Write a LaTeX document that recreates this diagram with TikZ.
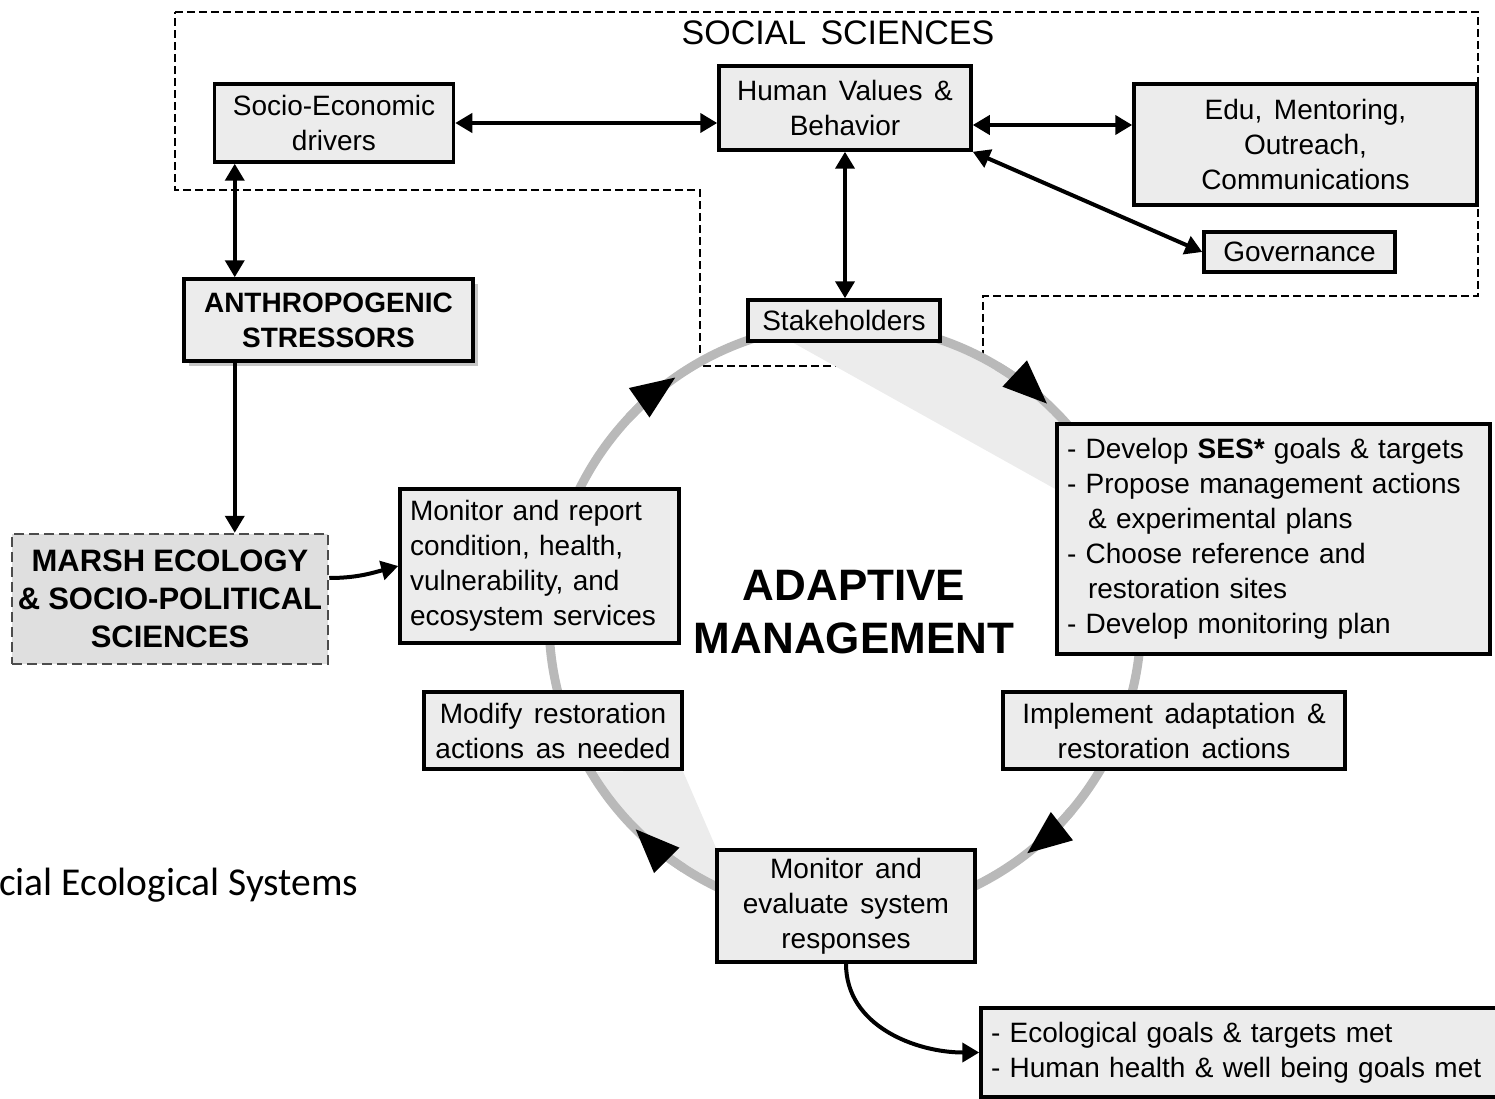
\documentclass[tikz,border=0pt]{standalone}
\usepackage{fontspec}
\setmainfont{Liberation Sans}[WordSpace=1.5]
\newfontfamily\calibrifont{Carlito}
\usetikzlibrary{arrows.meta, positioning, shadows}
\newcommand\narrowspaces{\spaceskip=0.26em\relax}

\begin{document}
\begin{tikzpicture}[
    x=1pt, y=1pt,
    box/.style={
        draw,
        line width=3.5pt,
        fill=gray!15,
        inner sep=6pt,
        align=center,
        font=\fontsize{28}{35}\selectfont,
    },
    boldbox/.style={
        box,
        font=\fontsize{28}{35}\selectfont\bfseries,
    },
    listbox/.style={
        box,
        align=left,
        inner sep=10pt,
    },
    sciencebox/.style={
        draw=gray!60!black,
        line width=2.5pt,
        dash pattern=on 10pt off 5pt,
        fill=gray!25,
        inner sep=2pt,
        align=center,
        font=\fontsize{31}{38}\selectfont\bfseries\narrowspaces,
    },
    link/.style={
        line width=4pt,
        {Triangle[length=17pt,width=19pt]}-{Triangle[length=17pt,width=19pt]},
    },
    oneway/.style={
        line width=4pt,
        -{Triangle[length=17pt,width=19pt]},
    },
    region/.style={
        line width=1.8pt,
        dash pattern=on 8pt off 4pt,
    },
    band/.style={
        fill=gray!15,
    },
    ring/.style={
        gray!55,
        line width=9pt,
    },
    ringtip/.style={
        ring,
        -{Triangle[length=44pt,width=36pt,line width=0pt,color=black]},
    },
]
    \useasboundingbox (0,0) rectangle (1495,-1099);

    % Social sciences area
    \draw[region] (175,-12) -- (1478,-12) -- (1478,-296) -- (983,-296) -- (983,-366)
        -- (700,-366) -- (700,-190) -- (175,-190) -- cycle;
    \node[font=\fontsize{34}{40}\selectfont] (social) at (838,-33) {SOCIAL SCIENCES};

    % Adaptive management cycle
    \coordinate (c) at (845,-620);
    \fill[band] (790,-341) -- ([shift={(72:296)}]c) arc[start angle=72, end angle=43, radius=296]
        -- (1057,-490) -- cycle;
    \fill[band] (682,-769) -- ([shift={(211:296)}]c) arc[start angle=211, end angle=244, radius=296]
        -- (717,-850) -- cycle;
    \draw[ring] (c) circle[radius=296];
    \foreach \a in {125, 47, -52, 225}
        \draw[ringtip] ([shift={(\a+12:296)}]c) arc[start angle=\a+12, end angle=\a, radius=296];

    % Boxes
    \node[box, minimum width=239pt, minimum height=78pt] (socio) at (334,-123) {Socio-Economic\\drivers};
    \node[box, minimum width=252pt, minimum height=84pt] (values) at (845,-108) {Human Values \&\\Behavior};
    \node[box, minimum width=343pt, minimum height=121pt] (edu) at (1305.5,-144.5) {Edu, Mentoring,\\Outreach,\\Communications};
    \node[box, inner sep=2pt, minimum width=191pt, minimum height=40pt] (gov) at (1299.5,-252) {Governance};
    \node[box, inner sep=2pt, minimum width=192pt, minimum height=41pt] (stake) at (844,-320.5) {Stakeholders};
    \node[boldbox, drop shadow={shadow xshift=5pt, shadow yshift=-5pt, fill=gray!45, opacity=1},
        minimum width=289pt, minimum height=82pt] (anthro) at (328.5,-320) {ANTHROPOGENIC\\STRESSORS};
    \node[sciencebox, minimum width=316pt, minimum height=130pt] (marsh) at (170,-599) {MARSH ECOLOGY\\\& SOCIO-POLITICAL\\SCIENCES};
    \node[listbox, text width=259pt, minimum height=154pt] (report) at (539.5,-566)
        {Monitor and report\\condition, health,\\vulnerability, and\\ecosystem services};
    \node[listbox, text width=413pt, minimum height=230pt] (develop) at (1273.5,-539)
        {- Develop \textbf{SES*} goals \& targets\\
         - Propose management actions\\
         \hspace*{21pt}\& experimental plans\\
         - Choose reference and\\
         \hspace*{21pt}restoration sites\\
         - Develop monitoring plan};
    \node[box, minimum width=258pt, minimum height=77pt] (modify) at (553,-730.5) {Modify restoration\\actions as needed};
    \node[box, minimum width=342pt, minimum height=77pt] (implement) at (1174,-730.5) {Implement adaptation \&\\restoration actions};
    \node[box, minimum width=258pt, minimum height=112pt] (evaluate) at (846,-906) {Monitor and\\evaluate system\\responses};
    \node[listbox, text width=520pt, minimum height=89pt] (goals) at (1251,-1052.5)
        {- Ecological goals \& targets met\\- Human health \& well being goals met};

    \node[font=\fontsize{44}{53}\selectfont\bfseries, align=center] (adaptive) at (854,-612) {ADAPTIVE\\MANAGEMENT};
    \node[font=\calibrifont\fontsize{39.5}{46}\selectfont, anchor=base west, inner sep=0pt] (ses) at (-1,-895) {cial Ecological Systems};

    % Links
    \draw[link] (socio.east) -- (socio.east -| values.west);
    \coordinate (valR) at ([yshift=-17pt]values.east);
    \draw[link] (valR) -- (valR -| edu.west);
    \draw[link] (values.south east) -- (gov.west);
    \draw[link] (values.south) -- (values.south |- stake.north);
    \coordinate (sa) at ([xshift=22pt]socio.south west);
    \draw[link] (sa) -- (sa |- anthro.north);
    \draw[oneway] (sa |- anthro.south) -- (sa |- marsh.north);
    \draw[oneway] ([yshift=21pt]marsh.east) to[out=0, in=195] (report.west);
    \draw[oneway] (evaluate.south) to[out=-90, in=180] (goals.west);
\end{tikzpicture}
\end{document}
